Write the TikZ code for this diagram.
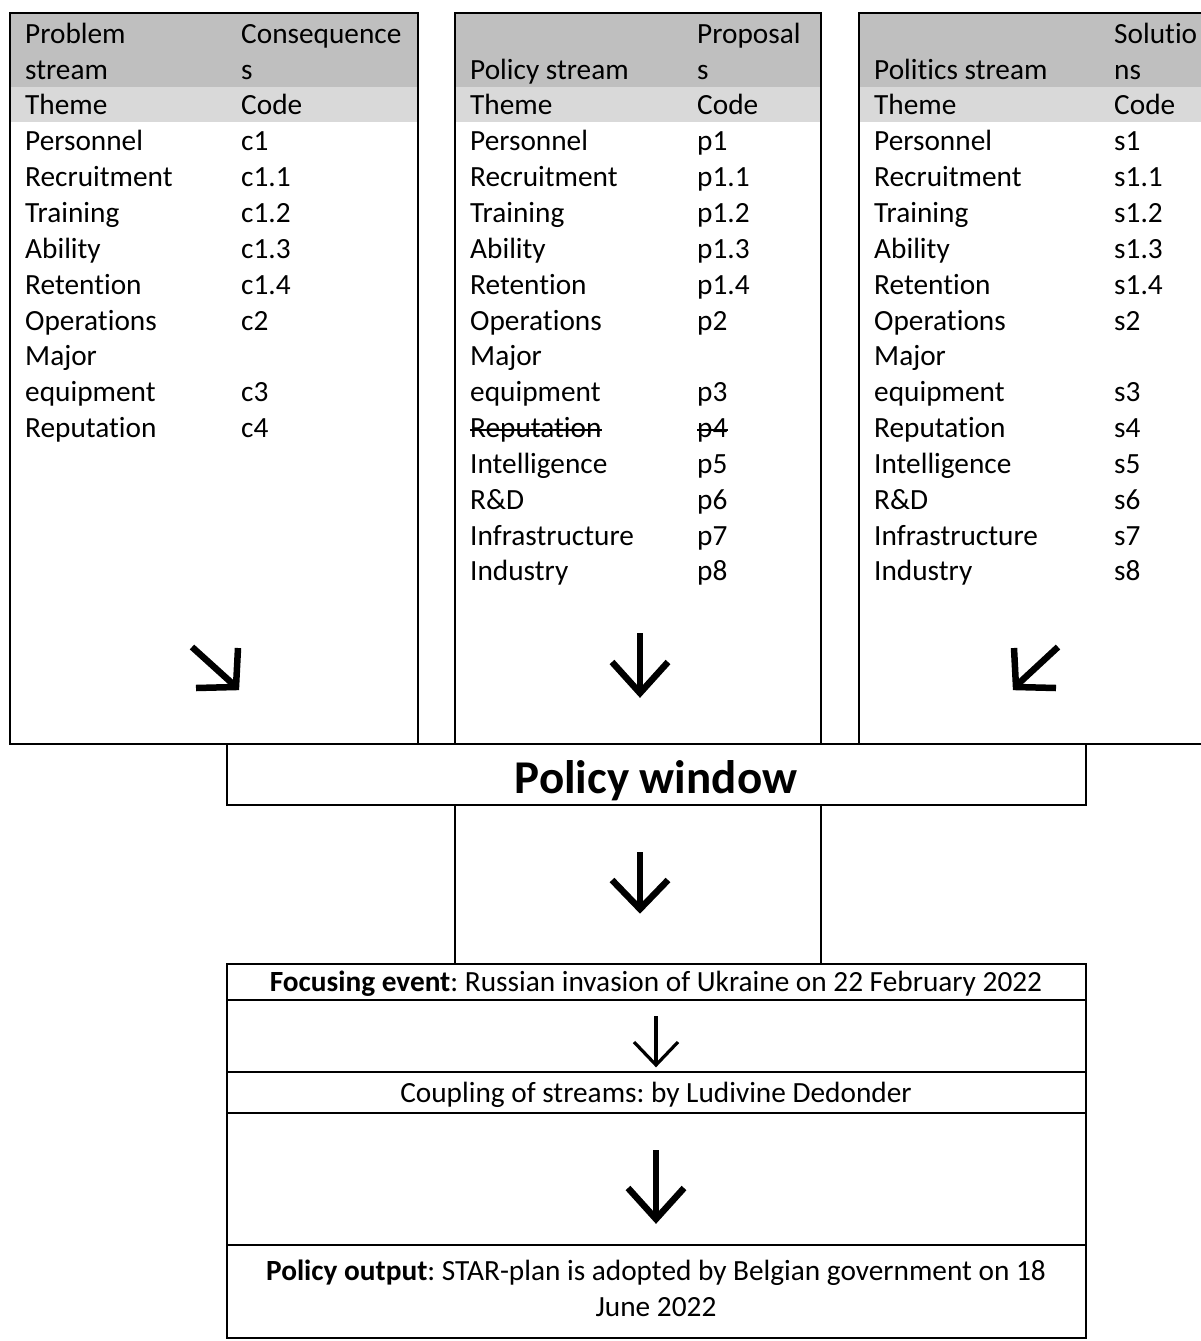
\documentclass[tikz,border=0pt]{standalone}
\usepackage{fontspec}
\setmainfont{Carlito}[Ligatures=NoCommon]
\frenchspacing
\tikzset{
  tx/.style={anchor=mid west, inner sep=0pt, yshift=-7.5pt, font=\fontsize{29.3}{35.8}\selectfont},
  ctx/.style={anchor=mid, inner sep=0pt, yshift=-7.5pt, align=center, font=\fontsize{29.3}{36}\selectfont},
  frame/.style={line width=2.2pt, draw=black},
  strike/.style={line width=1.6pt},
  fatarrow/.style={line width=6.5pt, line join=miter, miter limit=10},
  thinarrow/.style={line width=3.2pt, line join=miter, miter limit=10},
}
\definecolor{hdark}{HTML}{BFBFBF}
\definecolor{hlight}{HTML}{D9D9D9}
\begin{document}
\begin{tikzpicture}[x=1pt,y=-1pt]
\useasboundingbox (0,0) rectangle (1200,1341);
% header fills
\fill[hdark] (10,13) rectangle (418,87);
\fill[hlight] (10,87) rectangle (418,122);
\fill[hdark] (455,13) rectangle (821,87);
\fill[hlight] (455,87) rectangle (821,122);
\fill[hdark] (859,13) rectangle (1210,87);
\fill[hlight] (859,87) rectangle (1210,122);
% top boxes
\draw[frame] (10,13) rectangle (418,744);
\draw[frame] (455,13) rectangle (821,744);
\draw[frame] (859,13) rectangle (1210,744);
\draw[frame] (10,744) -- (1210,744);
% policy window
\draw[frame] (227,744) rectangle (1086,805);
\node[inner sep=0pt, yshift=-4pt, font=\fontsize{47}{56}\selectfont\bfseries] (pw) at (656,777) {Policy window};
% column
\draw[frame] (455,805) -- (455,964);
\draw[frame] (821,805) -- (821,964);
% bottom stack
\draw[frame] (227,964) rectangle (1086,1338);
\draw[frame] (227,1000) -- (1086,1000);
\draw[frame] (227,1072) -- (1086,1072);
\draw[frame] (227,1113) -- (1086,1113);
\draw[frame] (227,1245) -- (1086,1245);
\node[ctx] (fe) at (656,982) {\textbf{Focusing event}: Russian invasion of Ukraine on 22 February 2022};
\node[ctx] (cs) at (656,1093) {Coupling of streams: by Ludivine Dedonder};
\node[inner sep=0pt, anchor=center, align=center, font=\fontsize{29.3}{36}\selectfont] (po) at (656,1288) {\textbf{Policy output}: STAR-plan is adopted by Belgian government on 18\\June 2022};
% headers
\node[tx] (h1a) at (25,34) {Problem};
\node[tx] (h1b) at (25,70) {stream};
\node[tx] (h1c) at (241,34) {Consequence};
\node[tx] (h1d) at (241,70) {s};
\node[tx] (h1e) at (25,105) {Theme};
\node[tx] (h1f) at (241,105) {Code};
\node[tx] (h2b) at (470,70) {Policy stream};
\node[tx] (h2c) at (697,34) {Proposal};
\node[tx] (h2d) at (697,70) {s};
\node[tx] (h2e) at (470,105) {Theme};
\node[tx] (h2f) at (697,105) {Code};
\node[tx] (h3b) at (874,70) {Politics stream};
\node[tx] (h3c) at (1114,34) {Solutio};
\node[tx] (h3d) at (1114,70) {ns};
\node[tx] (h3e) at (874,105) {Theme};
\node[tx] (h3f) at (1114,105) {Code};
% rows
\foreach \t/\c [count=\i] in {Personnel/c1, Recruitment/c1.1, Training/c1.2, Ability/c1.3, Retention/c1.4, Operations/c2, Major/{}, equipment/c3, Reputation/c4}{
  \node[tx] (lt\i) at (25,{141+35.83*(\i-1)}) {\t};
  \node[tx] (lc\i) at (241,{141+35.83*(\i-1)}) {\c};
}
\foreach \t/\c [count=\i] in {Personnel/p1, Recruitment/p1.1, Training/p1.2, Ability/p1.3, Retention/p1.4, Operations/p2, Major/{}, equipment/p3, Reputation/p4, Intelligence/p5, {R\&D}/p6, Infrastructure/p7, Industry/p8}{
  \node[tx] (mt\i) at (470,{141+35.83*(\i-1)}) {\t};
  \node[tx] (mc\i) at (697,{141+35.83*(\i-1)}) {\c};
}
\foreach \t/\c [count=\i] in {Personnel/s1, Recruitment/s1.1, Training/s1.2, Ability/s1.3, Retention/s1.4, Operations/s2, Major/{}, equipment/s3, Reputation/s4, Intelligence/s5, {R\&D}/s6, Infrastructure/s7, Industry/s8}{
  \node[tx] (rt\i) at (874,{141+35.83*(\i-1)}) {\t};
  \node[tx] (rc\i) at (1114,{141+35.83*(\i-1)}) {\c};
}
% strike-through
\draw[strike] ([yshift=7.5pt]mt9.base west) -- ([yshift=7.5pt]mt9.base east);
\draw[strike] ([yshift=7.5pt]mc9.base west) -- ([yshift=7.5pt]mc9.base east);
% arrows
\draw[fatarrow] (192,647) -- (234,685);
\draw[fatarrow] (238,648) -- (236,687) -- (196,688);
\draw[fatarrow] (640,633) -- (640,692);
\draw[fatarrow] (612,662) -- (640,693) -- (668,662);
\draw[fatarrow] (1058,647) -- (1017,685);
\draw[fatarrow] (1014,648) -- (1016,687) -- (1056,688);
\draw[fatarrow] (640,852) -- (640,908);
\draw[fatarrow] (612,880) -- (640,909) -- (668,880);
\draw[thinarrow] (656,1016) -- (656,1064);
\draw[thinarrow] (634,1042) -- (656,1065) -- (678,1042);
\draw[fatarrow] (656,1150) -- (656,1218);
\draw[fatarrow] (628,1188) -- (656,1219) -- (684,1188);
\end{tikzpicture}
\end{document}
